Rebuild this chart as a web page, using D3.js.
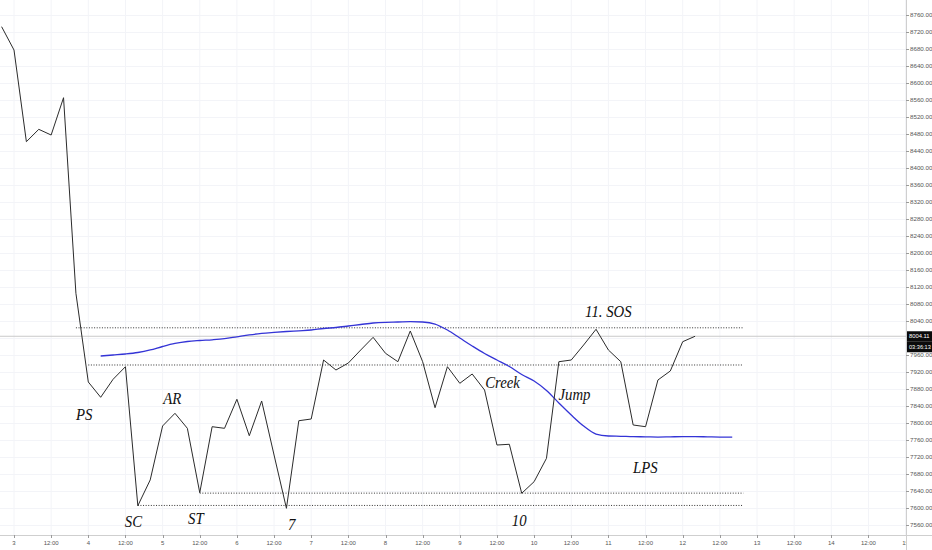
<!DOCTYPE html>
<html>
<head>
<meta charset="utf-8">
<script src="https://cdn.jsdelivr.net/npm/d3@7"></script>
<style>
  html, body { margin: 0; padding: 0; background: #fff; }
  svg { display: block; }
</style>
</head>
<body>
<svg id="chart" width="932" height="550"></svg>
<script>
// ---------- DATA ----------
// 4-hour closes, first candle at day 2 20:00 (UTC)
const startTime = "2019-11-02T20:00:00Z";
const closes = [
  8732.5, 8677.6, 8461.9, 8491.0, 8477.6, 8565.4, 8105.2, 7896.5, 7860.5, 7902.8,
  7932.5, 7605.4, 7666.0, 7793.0, 7822.8, 7787.5, 7636.0, 7791.3, 7787.5, 7855.8,
  7770.1, 7851.8, 7724.7, 7599.3, 7805.4, 7809.4, 7948.2, 7924.7, 7941.2, 7971.8,
  8001.6, 7964.0, 7944.2, 8016.5, 7944.2, 7836.0, 7932.5, 7893.4, 7915.3, 7877.6,
  7748.2, 7749.9, 7634.6, 7661.9, 7716.9, 7944.2, 7948.2, 7983.5, 8020.5, 7971.8,
  7944.2, 7795.3, 7791.3, 7901.2, 7922.4, 7991.3, 8004.11
];
// moving average, starts at candle index 8 of the closes array (day 3 08:00), runs 3 candles past the last close
const maStartIndex = 8;
const maValues = [
  7957.6, 7960.0, 7962.4, 7965.9, 7971.8, 7980.0, 7987.1, 7991.8, 7994.1, 7995.8,
  7998.3, 8002.8, 8007.3, 8010.8, 8013.2, 8015.3, 8017.0, 8018.8, 8022.4, 8024.7,
  8028.2, 8031.8, 8035.3, 8037.0, 8037.6, 8038.4, 8037.6, 8032.9, 8018.8, 8000.0,
  7981.2, 7963.5, 7948.2, 7932.9, 7914.1, 7898.8, 7876.5, 7847.1, 7818.8, 7792.9,
  7774.1, 7769.4, 7768.7, 7767.8, 7767.5, 7767.0, 7767.5, 7768.0, 7768.0, 7767.5,
  7767.0, 7767.0
];
const lastPrice = 8004.11;
const countdown = "03:36:13";
// dotted horizontal levels: [value, start candle index]
const levels = [
  { value: 8024, from: 6 },
  { value: 7936.5, from: 7 },
  { value: 7635, from: 16 },
  { value: 7606, from: 11 }
];
const levelEndIndex = 59.9;
// annotations: text, candle index (left edge), value (baseline)
const notes = [
  { text: "PS", i: 6.0, v: 7807 },
  { text: "AR", i: 13.05, v: 7844.7 },
  { text: "SC", i: 9.95, v: 7555.3 },
  { text: "ST", i: 15.05, v: 7562.4 },
  { text: "7", i: 23.13, v: 7548 },
  { text: "10", i: 41.2, v: 7557.6 },
  { text: "Creek", i: 39.05, v: 7882.4 },
  { text: "Jump", i: 44.97, v: 7854.1 },
  { text: "11. SOS", i: 47.12, v: 8048.7 },
  { text: "LPS", i: 50.98, v: 7681.6 }
];
const yTicks = d3.range(7560, 8761, 40);
const xTickStart = "2019-11-03T00:00:00Z";
const xTickEnd = "2019-11-15T00:00:00Z";

// ---------- LAYOUT ----------
const W = 932, H = 550;
const plotRight = 906, plotBottom = 535;

const svg = d3.select("#chart");
const t0 = new Date(startTime);
const timeAt = i => new Date(t0.getTime() + i * 4 * 3600 * 1000);

const x = d3.scaleUtc()
  .domain([new Date(xTickStart), new Date(xTickEnd)])
  .range([14, 905.6]);
const y = d3.scaleLinear().domain([7560, 8760]).range([525, 15]);

svg.append("defs").append("clipPath").attr("id", "plotclip")
  .append("rect").attr("x", 0).attr("y", 0).attr("width", plotRight).attr("height", plotBottom);

const xTicks = d3.utcHour.every(12).range(new Date(xTickStart), d3.utcHour.offset(new Date(xTickEnd), 1));

// faint grid
const grid = svg.append("g").attr("clip-path", "url(#plotclip)");
grid.selectAll("line.vg").data(xTicks).join("line")
  .attr("x1", d => x(d)).attr("x2", d => x(d))
  .attr("y1", 0).attr("y2", plotBottom)
  .attr("stroke", "#f3f4f8").attr("stroke-width", 1);
grid.selectAll("line.hg").data(yTicks).join("line")
  .attr("x1", 0).attr("x2", plotRight)
  .attr("y1", d => Math.round(y(d)) + 0.5).attr("y2", d => Math.round(y(d)) + 0.5)
  .attr("stroke", "#f3f4f8").attr("stroke-width", 1);

const plot = svg.append("g").attr("clip-path", "url(#plotclip)");

// last price line
plot.append("line")
  .attr("x1", 0).attr("x2", plotRight)
  .attr("y1", y(lastPrice)).attr("y2", y(lastPrice))
  .attr("stroke", "#c9c9c9").attr("stroke-width", 1);

// dotted levels
plot.selectAll("line.level").data(levels).join("line")
  .attr("x1", d => x(timeAt(d.from)))
  .attr("x2", x(timeAt(levelEndIndex)))
  .attr("y1", d => y(d.value)).attr("y2", d => y(d.value))
  .attr("stroke", "#333").attr("stroke-width", 1)
  .attr("stroke-dasharray", "1,1.6");

// MA line
const maData = maValues.map((v, j) => ({ t: timeAt(maStartIndex + j), v }));
plot.append("path").datum(maData)
  .attr("fill", "none").attr("stroke", "#3434d6").attr("stroke-width", 1.3)
  .attr("d", d3.line().x(d => x(d.t)).y(d => y(d.v)).curve(d3.curveMonotoneX));

// price line
const priceData = closes.map((v, i) => ({ t: timeAt(i), v }));
plot.append("path").datum(priceData)
  .attr("fill", "none").attr("stroke", "#2b2b2b").attr("stroke-width", 1)
  .attr("d", d3.line().x(d => x(d.t)).y(d => y(d.v)));

// annotations
svg.append("g").selectAll("text").data(notes).join("text")
  .attr("transform", d => `translate(${x(timeAt(d.i))},${y(d.v)}) scale(0.87,1)`)
  .attr("font-family", "'Liberation Serif', 'DejaVu Serif', serif")
  .attr("font-style", "italic")
  .attr("font-size", 17)
  .attr("fill", "#111")
  .text(d => d.text);

// right axis
const by = y(lastPrice);
const shownTicks = yTicks.filter(d => Math.abs(y(d) - (by + 5)) > 13);
const ra = svg.append("g");
ra.append("line").attr("x1", plotRight + 0.5).attr("x2", plotRight + 0.5)
  .attr("y1", 0).attr("y2", H).attr("stroke", "#cfcfcf");
ra.selectAll("line.t").data(shownTicks).join("line")
  .attr("x1", plotRight).attr("x2", plotRight + 3)
  .attr("y1", d => Math.round(y(d)) + 0.5).attr("y2", d => Math.round(y(d)) + 0.5)
  .attr("stroke", "#9a9a9a");
ra.selectAll("text").data(shownTicks).join("text")
  .attr("x", 910).attr("y", d => y(d)).attr("dy", "0.35em")
  .attr("font-family", "'Liberation Sans', Arial, sans-serif")
  .attr("font-size", 6.2).attr("fill", "#555")
  .text(d => d3.format(".2f")(d));

// last price box
ra.append("rect").attr("x", plotRight + 1).attr("y", by - 5).attr("width", W - plotRight).attr("height", 10.5).attr("fill", "#0b0b0b");
ra.append("rect").attr("x", plotRight + 1).attr("y", by + 5.5).attr("width", W - plotRight).attr("height", 10.5).attr("fill", "#0b0b0b");
ra.append("text").attr("x", 909).attr("y", by).attr("dy", "0.35em")
  .attr("font-family", "'Liberation Sans', Arial, sans-serif").attr("font-size", 5.8).attr("fill", "#fff")
  .text(d3.format(".2f")(lastPrice));
ra.append("text").attr("x", 909).attr("y", by + 10.5).attr("dy", "0.35em")
  .attr("font-family", "'Liberation Sans', Arial, sans-serif").attr("font-size", 5.6).attr("fill", "#fff")
  .text(countdown);

// bottom axis
svg.append("defs").append("clipPath").attr("id", "xclip")
  .append("rect").attr("x", 0).attr("y", plotBottom).attr("width", plotRight).attr("height", H - plotBottom);
const ba = svg.append("g");
ba.append("line").attr("x1", 0).attr("x2", W)
  .attr("y1", plotBottom + 0.5).attr("y2", plotBottom + 0.5).attr("stroke", "#cfcfcf");
const bt = ba.append("g").attr("clip-path", "url(#xclip)");
bt.selectAll("line").data(xTicks).join("line")
  .attr("x1", d => Math.round(x(d)) + 0.5).attr("x2", d => Math.round(x(d)) + 0.5)
  .attr("y1", plotBottom).attr("y2", plotBottom + 3).attr("stroke", "#9a9a9a");
bt.selectAll("text").data(xTicks).join("text")
  .attr("x", d => x(d)).attr("y", 543).attr("dy", "0.35em")
  .attr("text-anchor", "middle")
  .attr("font-family", "'Liberation Sans', Arial, sans-serif")
  .attr("font-size", 6).attr("fill", "#555")
  .text(d => d.getUTCHours() === 0 ? String(d.getUTCDate()) : d3.utcFormat("%H:%M")(d));
</script>
</body>
</html>
